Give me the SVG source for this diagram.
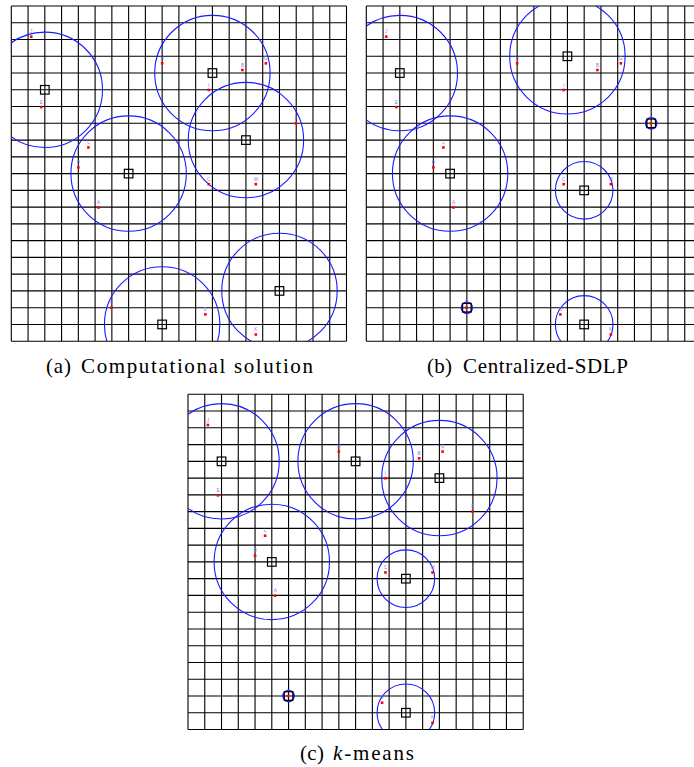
<svg xmlns="http://www.w3.org/2000/svg" xmlns:xlink="http://www.w3.org/1999/xlink" width="694" height="767" viewBox="0 0 694 767">
<style>
.grid{fill:none;stroke:#000;stroke-width:1.1}
.circ{fill:none;stroke:#1a1aff;stroke-width:1.1}
.small{fill:none;stroke:#1a1aff;stroke-width:1.6}
.ctr{fill:none;stroke:#000;stroke-width:1.2}
.pt{fill:#ff0000}
.lbl{font-family:"Liberation Sans",Arial,sans-serif;font-size:4.5px;fill:#7a7aff;text-anchor:middle}
.cap{font-family:"Liberation Serif","DejaVu Serif",serif;font-size:21px;fill:#000}
</style>
<defs>
<clipPath id="box"><rect x="0" y="0" width="335.2" height="335.2"/></clipPath>
<path id="gridpath" class="grid" d="M0 0V335.2M16.76 0V335.2M33.52 0V335.2M50.28 0V335.2M67.04 0V335.2M83.8 0V335.2M100.56 0V335.2M117.32 0V335.2M134.08 0V335.2M150.84 0V335.2M167.6 0V335.2M184.36 0V335.2M201.12 0V335.2M217.88 0V335.2M234.64 0V335.2M251.4 0V335.2M268.16 0V335.2M284.92 0V335.2M301.68 0V335.2M318.44 0V335.2M335.2 0V335.2M0 0H335.2M0 16.76H335.2M0 33.52H335.2M0 50.28H335.2M0 67.04H335.2M0 83.8H335.2M0 100.56H335.2M0 117.32H335.2M0 134.08H335.2M0 150.84H335.2M0 167.6H335.2M0 184.36H335.2M0 201.12H335.2M0 217.88H335.2M0 234.64H335.2M0 251.4H335.2M0 268.16H335.2M0 284.92H335.2M0 301.68H335.2M0 318.44H335.2M0 335.2H335.2"/>
<rect id="ctr" class="ctr" x="-4.3" y="-4.3" width="8.6" height="8.6"/>
<g id="pts">
<g id="pA"><rect class="pt" x="85.85" y="200.16" width="2.6" height="2.6"/><text class="lbl" x="87.15" y="198.2">A</text></g>
<g id="pB"><rect class="pt" x="229.82" y="62.72" width="2.6" height="2.6"/><text class="lbl" x="231.12" y="60.8">B</text></g>
<g id="pC"><rect class="pt" x="196.13" y="176.86" width="2.6" height="2.6"/><text class="lbl" x="197.43" y="174.9">C</text></g>
<g id="pD"><rect class="pt" x="65.74" y="160.1" width="2.6" height="2.6"/><text class="lbl" x="67.04" y="158.1">D</text></g>
<g id="pE"><rect class="pt" x="28.7" y="99.76" width="2.6" height="2.6"/><text class="lbl" x="30" y="97.8">E</text></g>
<g id="pF"><rect class="pt" x="283.28" y="116.02" width="2.6" height="2.6"/><text class="lbl" x="284.58" y="114">F</text></g>
<g id="pG"><rect class="pt" x="253.28" y="56.02" width="2.6" height="2.6"/><text class="lbl" x="254.58" y="54">G</text></g>
<g id="pH"><rect class="pt" x="149.54" y="56.02" width="2.6" height="2.6"/><text class="lbl" x="150.84" y="54">H</text></g>
<g id="pI"><rect class="pt" x="196.13" y="82.67" width="2.6" height="2.6"/><text class="lbl" x="197.43" y="80.7">I</text></g>
<g id="pJ"><rect class="pt" x="18.64" y="29.37" width="2.6" height="2.6"/><text class="lbl" x="19.94" y="27.4">J</text></g>
<g id="pK"><rect class="pt" x="243.23" y="327.2" width="2.6" height="2.6"/><text class="lbl" x="244.53" y="325.2">K</text></g>
<g id="pL"><rect class="pt" x="75.8" y="140.15" width="2.6" height="2.6"/><text class="lbl" x="77.1" y="138.2">L</text></g>
<g id="pM"><rect class="pt" x="243.23" y="176.86" width="2.6" height="2.6"/><text class="lbl" x="244.53" y="174.9">M</text></g>
<g id="pN"><rect class="pt" x="98.76" y="300.38" width="2.6" height="2.6"/><text class="lbl" x="100.06" y="298.4">N</text></g>
<g id="pO"><rect class="pt" x="192.78" y="307.08" width="2.6" height="2.6"/><text class="lbl" x="194.08" y="305.1">O</text></g>
</g>
</defs>

<g id="panel-a" transform="translate(11.3,6)">
<use xlink:href="#gridpath"/>
<g id="circles-a" clip-path="url(#box)">
<circle class="circ" cx="33.52" cy="83.8" r="57.7"/>
<circle class="circ" cx="201.12" cy="67.04" r="57.7"/>
<circle class="circ" cx="234.64" cy="134.08" r="57.7"/>
<circle class="circ" cx="117.32" cy="167.6" r="57.7"/>
<circle class="circ" cx="150.84" cy="318.44" r="57.7"/>
<circle class="circ" cx="268.16" cy="284.92" r="57.7"/>
</g>
<use xlink:href="#pts"/>
<g id="centers-a">
<use xlink:href="#ctr" x="33.52" y="83.8"/>
<use xlink:href="#ctr" x="201.12" y="67.04"/>
<use xlink:href="#ctr" x="234.64" y="134.08"/>
<use xlink:href="#ctr" x="117.32" y="167.6"/>
<use xlink:href="#ctr" x="150.84" y="318.44"/>
<use xlink:href="#ctr" x="268.16" y="284.92"/>
</g>
</g>

<g id="panel-b" transform="translate(366.3,6)">
<use xlink:href="#gridpath"/>
<g id="circles-b" clip-path="url(#box)">
<circle class="circ" cx="33.52" cy="67.04" r="57.7"/>
<circle class="circ" cx="201.12" cy="50.28" r="57.7"/>
<circle class="circ" cx="83.8" cy="167.6" r="57.7"/>
<circle class="circ" cx="217.88" cy="184.36" r="28.8"/>
<circle class="circ" cx="217.88" cy="318.44" r="28.8"/>
<circle class="small" cx="284.92" cy="117.32" r="5.5"/>
<circle class="small" cx="100.56" cy="301.68" r="5.5"/>
</g>
<use xlink:href="#pts"/>
<g id="centers-b">
<use xlink:href="#ctr" x="33.52" y="67.04"/>
<use xlink:href="#ctr" x="201.12" y="50.28"/>
<use xlink:href="#ctr" x="83.8" y="167.6"/>
<use xlink:href="#ctr" x="217.88" y="184.36"/>
<use xlink:href="#ctr" x="217.88" y="318.44"/>
<use xlink:href="#ctr" x="284.92" y="117.32"/>
<use xlink:href="#ctr" x="100.56" y="301.68"/>
</g>
</g>

<g id="panel-c" transform="translate(188,394.3)">
<use xlink:href="#gridpath"/>
<g id="circles-c" clip-path="url(#box)">
<circle class="circ" cx="33.52" cy="67.04" r="57.7"/>
<circle class="circ" cx="167.6" cy="67.04" r="57.7"/>
<circle class="circ" cx="251.4" cy="83.8" r="57.7"/>
<circle class="circ" cx="83.8" cy="167.6" r="57.7"/>
<circle class="circ" cx="217.88" cy="184.36" r="28.8"/>
<circle class="circ" cx="217.88" cy="318.44" r="28.8"/>
<circle class="small" cx="100.56" cy="301.68" r="5.5"/>
</g>
<use xlink:href="#pts"/>
<g id="centers-c">
<use xlink:href="#ctr" x="33.52" y="67.04"/>
<use xlink:href="#ctr" x="167.6" y="67.04"/>
<use xlink:href="#ctr" x="251.4" y="83.8"/>
<use xlink:href="#ctr" x="83.8" y="167.6"/>
<use xlink:href="#ctr" x="217.88" y="184.36"/>
<use xlink:href="#ctr" x="217.88" y="318.44"/>
<use xlink:href="#ctr" x="100.56" y="301.68"/>
</g>
</g>

<g id="captions">
<text class="cap" x="46" y="373" textLength="25">(a)</text>
<text class="cap" x="81" y="373" textLength="232">Computational solution</text>
<text class="cap" x="427" y="373" textLength="25">(b)</text>
<text class="cap" x="463" y="373" textLength="165">Centralized-SDLP</text>
<text class="cap" x="300" y="760" textLength="24">(c)</text>
<text class="cap" x="333" y="760" textLength="81"><tspan font-style="italic">k</tspan>-means</text>
</g>
</svg>
